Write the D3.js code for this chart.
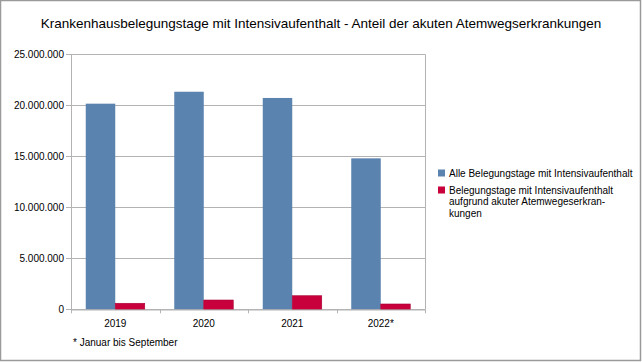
<!DOCTYPE html>
<html><head><meta charset="utf-8">
<script src="https://cdn.jsdelivr.net/npm/d3@7"></script>
<style>body{margin:0;background:#fff}svg{display:block}</style>
</head><body>
<script>
const categories = ["2019","2020","2021","2022*"];
const seriesNames = ["Alle Belegungstage mit Intensivaufenthalt","Belegungstage mit Intensivaufenthalt aufgrund akuter Atemwegeserkrankungen"];
const allDays = [20160000, 21330000, 20720000, 14800000];
const respDays = [590000, 910000, 1330000, 520000];
const yTicks = [0, 5000000, 10000000, 15000000, 20000000, 25000000];
const colors = ["#5b83b0", "#c8003c"];

const W = 642, H = 362;
const svg = d3.select("body").append("svg").attr("width", W).attr("height", H)
  .style("font-family", "'Liberation Sans', Arial, sans-serif");
svg.append("rect").attr("x",0.5).attr("y",0.5).attr("width",W-2).attr("height",H-2)
  .attr("fill","#fff").attr("stroke","#9a9a9a").attr("stroke-width",1.5);

const m = {left:71, right:425, top:54.3, bottom:309.3};
const x = d3.scaleBand().domain(categories).range([m.left, m.right]).paddingInner(0).paddingOuter(0);
const xs = d3.scaleBand().domain([0,1]).range([0, x.bandwidth()]).paddingInner(0).paddingOuter(0.5);
const y = d3.scaleLinear().domain([0, 25000000]).range([m.bottom, m.top]);

svg.append("text").attr("x", 321).attr("y", 28).attr("text-anchor","middle")
  .attr("font-size", 13.5).attr("fill","#000")
  .text("Krankenhausbelegungstage mit Intensivaufenthalt - Anteil der akuten Atemwegserkrankungen");

// gridlines
svg.append("g").selectAll("line").data(yTicks).join("line")
  .attr("x1", m.left-5).attr("x2", m.right).attr("y1", d=>Math.round(y(d))+0.5).attr("y2", d=>Math.round(y(d))+0.5)
  .attr("stroke","#b3b3b3").attr("stroke-width",1);
// plot border
svg.append("line").attr("x1",m.left+0.5).attr("x2",m.left+0.5).attr("y1",y(25000000)).attr("y2",m.bottom+4).attr("stroke","#b3b3b3");
svg.append("line").attr("x1",m.right+0.5).attr("x2",m.right+0.5).attr("y1",y(25000000)).attr("y2",m.bottom).attr("stroke","#b3b3b3");

const fmt = d => d3.format(",")(d).replace(/,/g, ".");
svg.append("g").selectAll("text").data(yTicks).join("text")
  .attr("x", 64).attr("y", d=>y(d)+3.5).attr("text-anchor","end").attr("font-size",10).attr("fill","#000")
  .text(fmt);

// bars
const data = categories.map((c,i)=>({c, v:[allDays[i], respDays[i]]}));
const g = svg.append("g");
data.forEach(d=>{
  d.v.forEach((v,j)=>{
    g.append("rect").attr("x", x(d.c)+xs(j)).attr("y", y(v)).attr("width", xs.bandwidth())
      .attr("height", y(0)-y(v)).attr("fill", colors[j])
      .attr("stroke", j===1 ? "#a80033" : "none").attr("stroke-width", j===1?0.6:0);
  });
});

// x axis
const xa = svg.append("g").attr("transform", `translate(0,${Math.round(m.bottom)+0.5})`)
  .call(d3.axisBottom(x).tickSize(0).tickPadding(10));
xa.select(".domain").attr("stroke","#b3b3b3");
xa.selectAll("text").attr("font-size",10).attr("font-family","'Liberation Sans', Arial, sans-serif").attr("fill","#000");
svg.append("g").selectAll("line").data(categories.slice(1)).join("line")
  .attr("x1", d=>Math.round(x(d))+0.5).attr("x2", d=>Math.round(x(d))+0.5)
  .attr("y1", m.bottom).attr("y2", m.bottom+4).attr("stroke","#b3b3b3");
svg.append("line").attr("x1", m.right+0.5).attr("x2", m.right+0.5).attr("y1", m.bottom).attr("y2", m.bottom+4).attr("stroke","#b3b3b3");

svg.append("text").attr("x", 73).attr("y", 345.5).attr("font-size",10).attr("fill","#000").text("* Januar bis September");

// legend
const leg = svg.append("g");
const legLines = [[seriesNames[0]], ["Belegungstage mit Intensivaufenthalt","aufgrund akuter Atemwegeserkran-","kungen"]];
const legY = [173, 190];
legLines.forEach((lines,i)=>{
  leg.append("rect").attr("x",438).attr("y",legY[i]-3.5).attr("width",7).attr("height",7).attr("fill",colors[i]);
  lines.forEach((t,k)=>{
    leg.append("text").attr("x",449).attr("y",legY[i]+3.5+k*11.5).attr("font-size",10).attr("fill","#000").text(t);
  });
});
</script>
</body></html>
